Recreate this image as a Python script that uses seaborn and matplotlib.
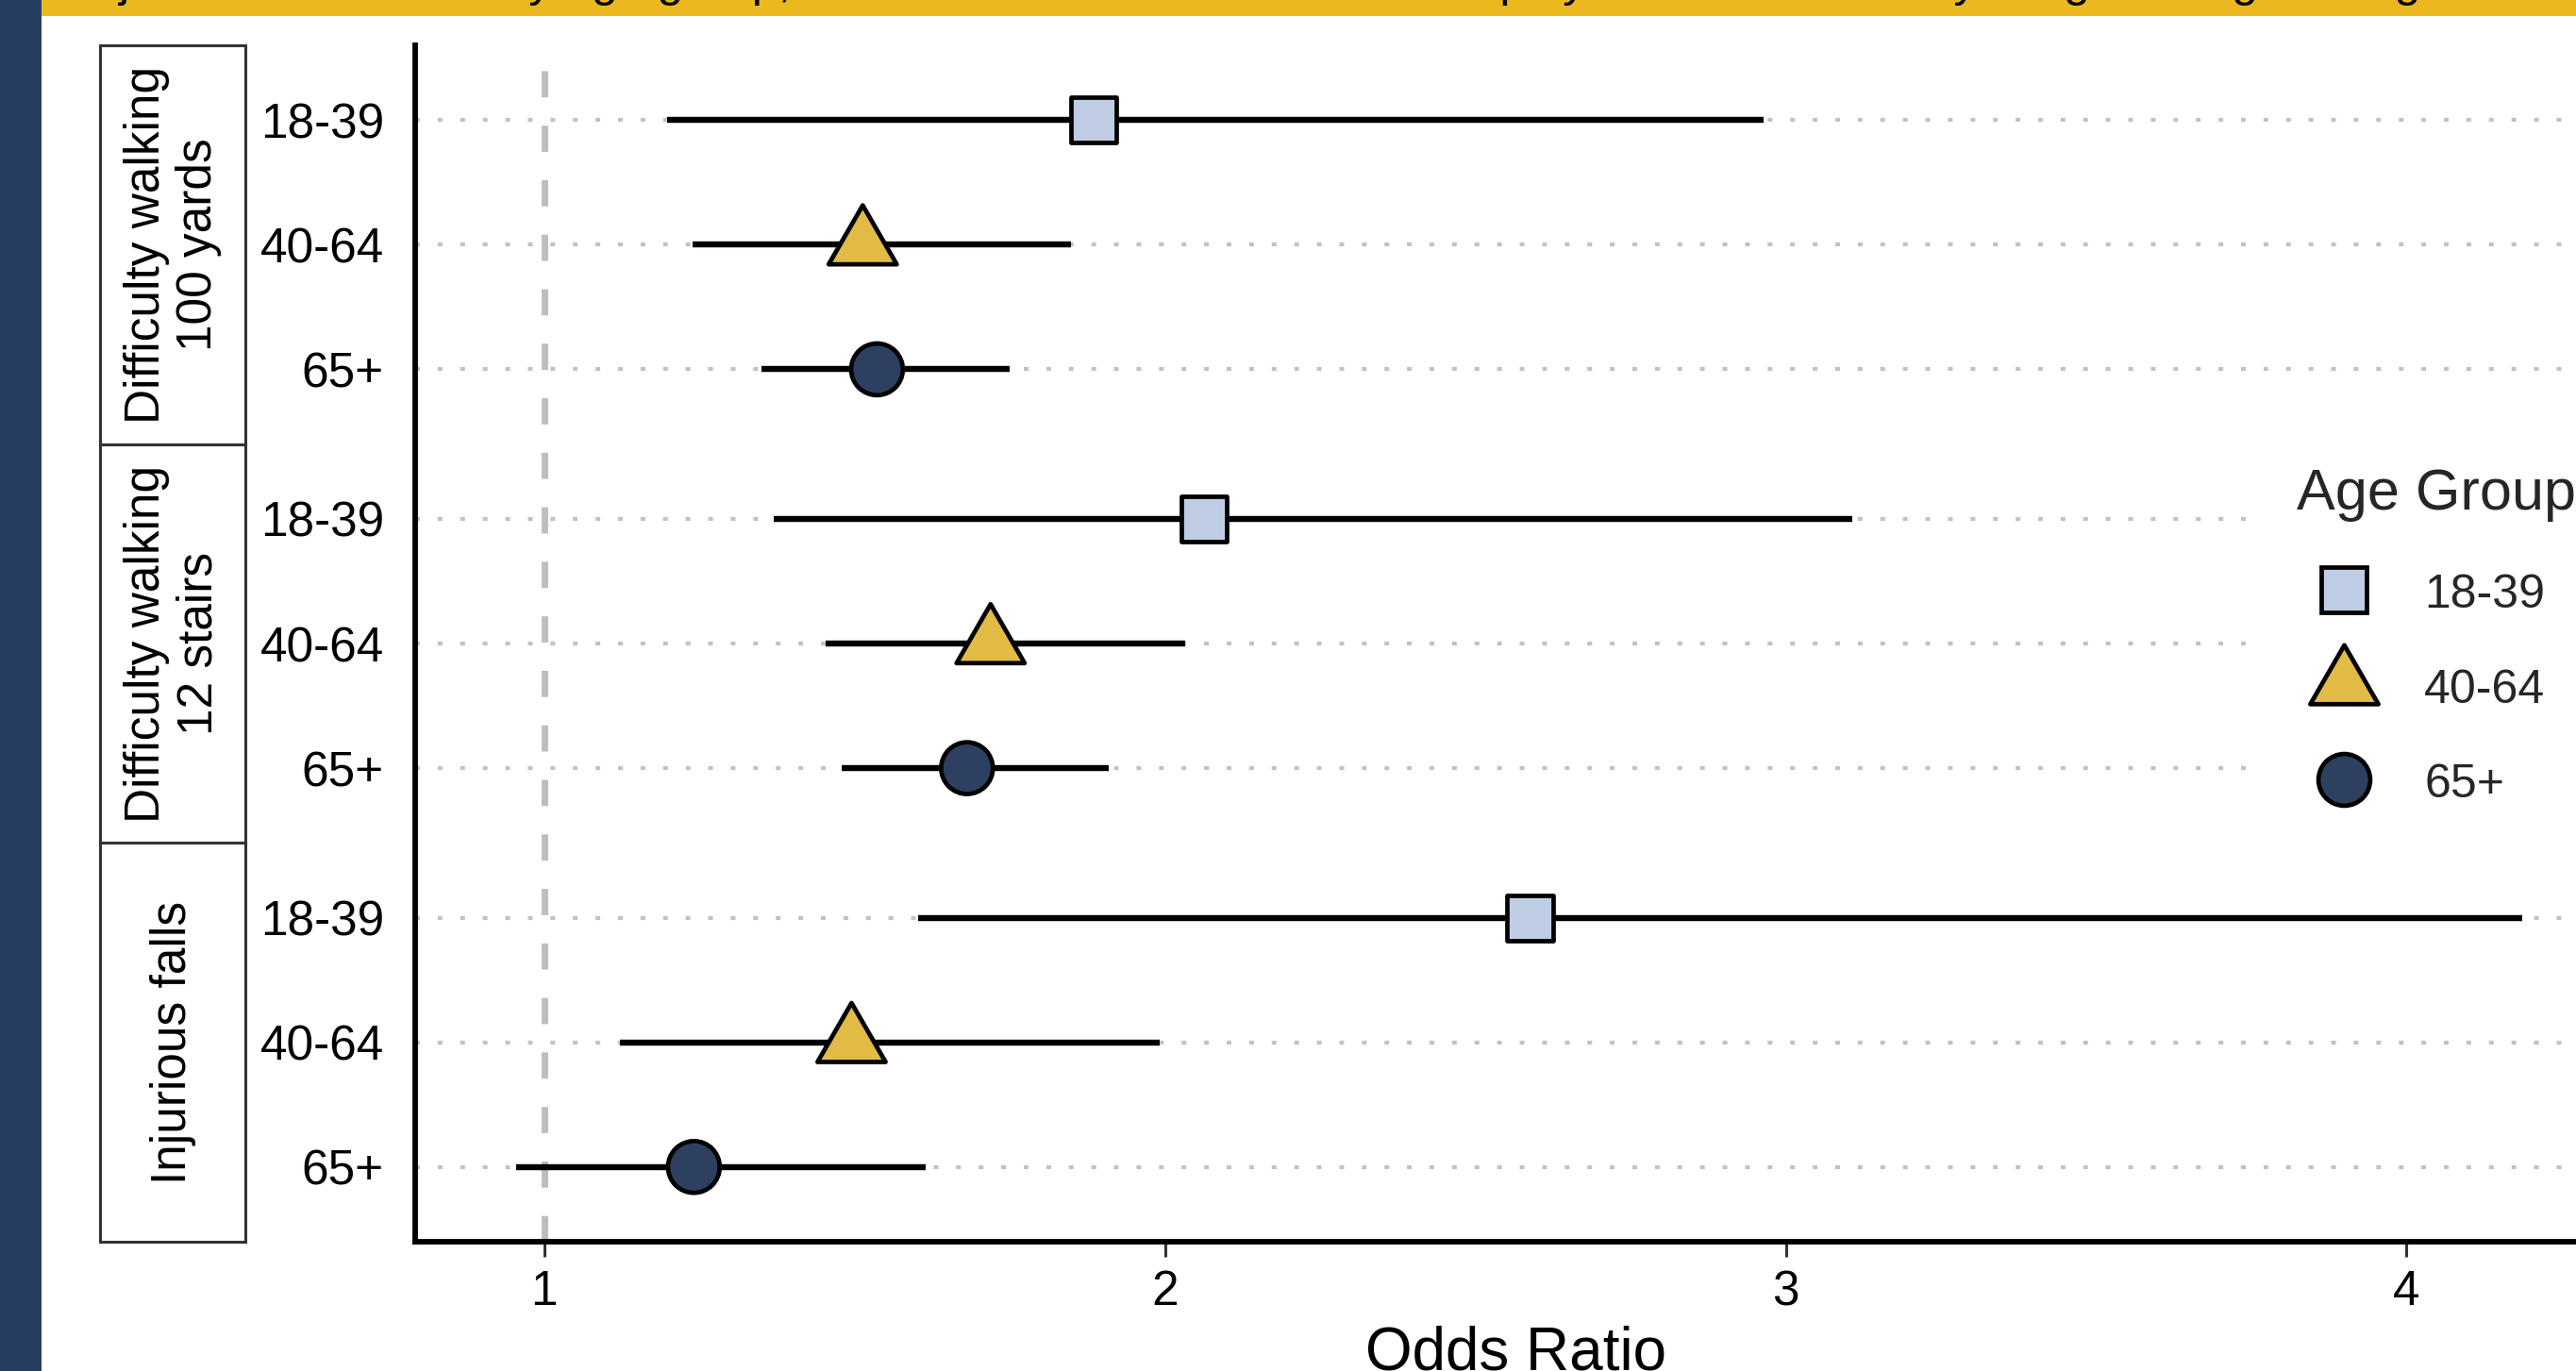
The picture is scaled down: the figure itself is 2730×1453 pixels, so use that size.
import numpy as np
import pandas as pd
import matplotlib
matplotlib.use("Agg")
import matplotlib.pyplot as plt
import matplotlib.transforms as mtransforms
from matplotlib.path import Path
from matplotlib.lines import Line2D
from matplotlib.patches import Rectangle
import seaborn as sns

# ---------------- data ----------------
outcomes = ["Difficulty walking\n100 yards", "Difficulty walking\n12 stairs", "Injurious falls"]
age_groups = ["18-39", "40-64", "65+"]
odds_ratio = [1.885, 1.513, 1.536, 2.063, 1.719, 1.681, 2.588, 1.495, 1.241]
ci_low = [1.198, 1.239, 1.350, 1.370, 1.454, 1.479, 1.602, 1.122, 0.955]
ci_high = [2.964, 1.849, 1.749, 3.107, 2.033, 1.910, 4.186, 1.992, 1.614]
x_ticks = [1, 2, 3, 4]
x_tick_labels = ["1", "2", "3", "4"]
age_colors = ["#BECDE4", "#E2BA46", "#2D4060"]
caption = ("Adjusted odds ratios by age group, with 95% confidence intervals displayed "
           "from the survey-weighted logistic regression model")

# ---------------- style ----------------
sns.set_style("white")
plt.rcParams["font.family"] = ["Liberation Sans", "DejaVu Sans"]
plt.rcParams["lines.scale_dashes"] = False

W, H = 2730, 1453
DPI = 200
fig = plt.figure(figsize=(W / DPI, H / DPI), dpi=DPI)
fig.patch.set_facecolor("white")

# decoration bands (cropped page context)
navy = "#263F60"
gold = "#EBB91F"
fig.add_artist(Rectangle((0, 0), 44 / W, 1, transform=fig.transFigure,
                         facecolor=navy, edgecolor="none", zorder=1))
fig.add_artist(Rectangle((44 / W, 1 - 17 / H), 1, 17 / H, transform=fig.transFigure,
                         facecolor=gold, edgecolor="none", zorder=1))
fig.text(65 / W, 1 + 4.0 / H, caption, va="baseline", ha="left", fontsize=18,
         color="black", zorder=5)

# ---------------- table ----------------
rows = []
for p, outcome in enumerate(outcomes):
    for i, age in enumerate(age_groups):
        k = p * 3 + i
        rows.append(dict(outcome=outcome, age=age, odds_ratio=odds_ratio[k],
                         lo=ci_low[k], hi=ci_high[k], ypos=p * 3.2 + 0.6 + i))
df = pd.DataFrame(rows)

ax = fig.add_axes([440 / W, 1 - 1316 / H, (2774 - 440) / W, (1316 - 48) / H])

tri = Path([(-1, -0.577), (1, -0.577), (0, 1.155), (-1, -0.577)],
           [Path.MOVETO, Path.LINETO, Path.LINETO, Path.CLOSEPOLY])
marker_map = dict(zip(age_groups, ["s", tri, "o"]))
size_map = dict(zip(age_groups, [300, 900, 390]))
color_map = dict(zip(age_groups, age_colors))
edge_w = 1.7

ax.axvline(1, color="#BEBEBE", lw=2.5, ls=(0, (10, 10.8)), zorder=1.5)
ax.hlines(df["ypos"], df["lo"], df["hi"], colors="black", lw=2.3, zorder=2)
sns.scatterplot(data=df, x="odds_ratio", y="ypos", hue="age", palette=color_map,
                style="age", markers=marker_map, size="age", sizes=size_map,
                edgecolor="black", linewidth=edge_w, legend=False, zorder=3, ax=ax)

ax.set_xlim(0.792, 4.340)
ax.set_ylim(9.6, 0)
ax.set_xticks(x_ticks)
ax.set_xticklabels(x_tick_labels)
ax.set_yticks(df["ypos"])
ax.set_yticklabels(df["age"])
ax.set_axisbelow(True)
ax.yaxis.grid(True, color="#C2C2C2", lw=1.5, ls=(0, (1.8, 6.8)))
ax.xaxis.grid(False)
for s in ["top", "right"]:
    ax.spines[s].set_visible(False)
for s in ["left", "bottom"]:
    ax.spines[s].set_linewidth(2.1)
    ax.spines[s].set_color("black")
ax.tick_params(axis="y", length=0, pad=11.9, labelsize=18.5, labelcolor="black")
ax.tick_params(axis="x", length=5.8, width=1.1, color="#333333", pad=4.7,
               labelsize=18.5, labelcolor="black", bottom=True)
ax.set_ylabel("")
ax.set_xlabel("Odds Ratio", fontsize=23, color="black")
ax.xaxis.label.set_va("baseline")
ax.xaxis.set_label_coords(0.5, -(1452 - 1316) / 1268)

# facet strips on the left
trans = mtransforms.blended_transform_factory(fig.transFigure, ax.transData)
for p, outcome in enumerate(outcomes):
    fig.add_artist(Rectangle((106 / W, p * 3.2), (260 - 106) / W, 3.2, transform=trans,
                             facecolor="none", edgecolor="#333333", lw=1.1, zorder=2))
    ax.text(183 / W, p * 3.2 + 1.6, outcome, transform=trans, rotation=90,
            ha="center", va="center", multialignment="center", fontsize=18.5,
            linespacing=1.17, color="black", clip_on=False)

# legend
handles = [Line2D([], [], ls="none", marker=marker_map[a], markersize=np.sqrt(size_map[a]),
                  markerfacecolor=color_map[a], markeredgecolor="black",
                  markeredgewidth=edge_w)
           for a in age_groups]
leg = fig.legend(handles, age_groups, title="Age Group", loc="upper left",
                 bbox_to_anchor=(2359 / W, 1 - 421 / H), frameon=True, fancybox=False,
                 facecolor="white", edgecolor="none", framealpha=1, fontsize=18,
                 title_fontsize=22, handlelength=2.0, handleheight=1.0,
                 handletextpad=0.7, labelspacing=1.02, borderpad=1.0,
                 alignment="left")
leg._legend_box.sep = 18.7

fig.savefig("out.png", dpi=DPI)
